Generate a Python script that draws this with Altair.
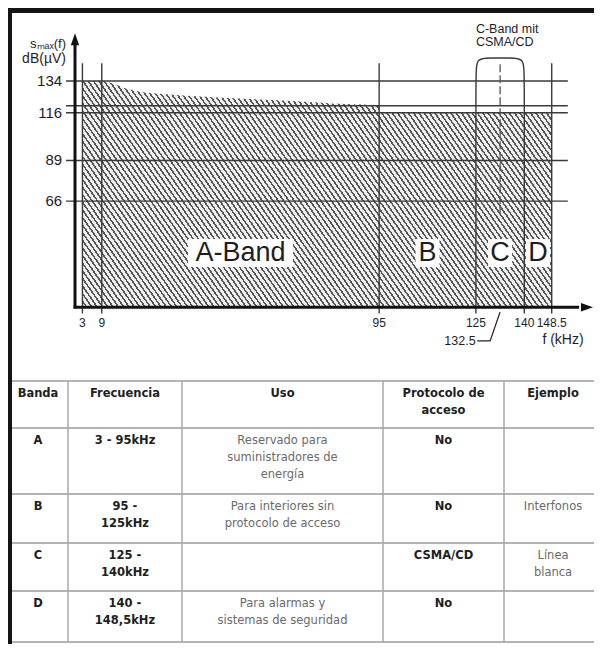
import altair as alt
import pandas as pd

# ---------------- chart values ----------------
curve_f = [3, 9, 12.5, 16.7, 21, 29, 39.5, 50, 60, 70.5, 81, 94.9, 95.1, 148.5]
curve_v = [134, 134, 132.5, 129.6, 127.9, 126.5, 125.2, 124.2, 123.3, 122.4, 121.3, 120.1, 116, 116]
level_values = [134, 120, 116, 89, 66]
y_tick_values = [134, 116, 89, 66]
x_tick_values = [3, 9, 95, 125, 140, 148.5]
x_tick_labels = ["3", "9", "95", "125", "140", "148.5"]
grid_f = [3, 9, 95, 148.5]
band_names = ["A-Band", "B", "C", "D"]
band_mid = [52, 110, 132.5, 144.25]
c_band_f = [125, 140]
c_band_split = 132.5

# ---------------- table values ----------------
headers = ["Banda", "Frecuencia", "Uso", "Protocolo de\nacceso", "Ejemplo"]
bands = ["A", "B", "C", "D"]
frecuencia = ["3 - 95kHz", "95 -\n125kHz", "125 -\n140kHz", "140 -\n148,5kHz"]
uso = ["Reservado para\nsuministradores de\nenergía", "Para interiores sin\nprotocolo de acceso", "",
       "Para alarmas y\nsistemas de seguridad"]
protocolo = ["No", "No", "CSMA/CD", "No"]
ejemplo = ["", "Interfonos", "Línea\nblanca", ""]

# ---------------- layout ----------------
FONT = "Liberation Sans"
TFONT = "DejaVu Sans"
XS = alt.Scale(domain=[0.7, 161.3], range=[67, 585], nice=False, zero=False)
YS = alt.Scale(domain=[6, 161], range=[299.2, 25.2], nice=False, zero=False)
TX = alt.Scale(domain=[0, 602], range=[-8, 594], nice=False, zero=False)
TY = alt.Scale(domain=[0, 655], range=[-8, 647], nice=False, zero=False)
col_edges = [8, 68, 182, 383, 504, 602]
row_edges = [381, 428, 494, 543, 591, 642]


def fx(field=None, datum=None):
    if field is not None:
        return alt.X(field, scale=XS, axis=None)
    return alt.X(datum=datum, scale=XS, axis=None)


def fy(field=None, datum=None):
    if field is not None:
        return alt.Y(field, scale=YS, axis=None)
    return alt.Y(datum=datum, scale=YS, axis=None)


def tx(field=None, datum=None):
    if field is not None:
        return alt.X(field, scale=TX, axis=None)
    return alt.X(datum=datum, scale=TX, axis=None)


def ty(field=None, datum=None):
    if field is not None:
        return alt.Y(field, scale=TY, axis=None)
    return alt.Y(datum=datum, scale=TY, axis=None)


# hatch pattern as a striped linear gradient
N = 118
stops = []
for i in range(N):
    a = i / N
    b = (i + 0.36) / N
    c = (i + 1) / N
    stops += [alt.GradientStop(offset=a, color="#555555"), alt.GradientStop(offset=b, color="#555555"),
              alt.GradientStop(offset=b, color="#efefef"), alt.GradientStop(offset=c, color="#efefef")]
hatch = alt.Gradient(gradient="linear", stops=stops, x1=1, y1=0, x2=-0.2008, y2=0.4047)

layers = []

curve_df = pd.DataFrame({"f": curve_f, "v": curve_v})
layers.append(alt.Chart(curve_df).mark_area(interpolate="monotone", color=hatch, strokeWidth=0).encode(
    x=fx("f:Q"), y=fy("v:Q"), y2=alt.Y2(datum=6)))

# horizontal level lines
layers.append(alt.Chart(pd.DataFrame({"v": level_values})).mark_rule(color="#3a3a3a", strokeWidth=1.4).encode(
    x=fx(datum=-2.1), x2=alt.X2(datum=153.5), y=fy("v:Q")))

# vertical lines
layers.append(alt.Chart(pd.DataFrame({"f": grid_f})).mark_rule(color="#3a3a3a", strokeWidth=1.4).encode(
    x=fx("f:Q"), y=fy(datum=2.5), y2=alt.Y2(datum=144)))

# C band bracket
lo, hi = c_band_f
top = 147
br = pd.DataFrame({
    "f": [lo, lo, lo, lo + 5, (lo + hi) / 2, hi - 5, hi, hi, hi],
    "v": [2.5, 138, top, top, top, top, top, 138, 2.5],
    "i": list(range(9))})
layers.append(alt.Chart(br).mark_line(interpolate="basis", color="#3a3a3a", strokeWidth=1.4).encode(
    x=fx("f:Q"), y=fy("v:Q"), order="i:Q"))

# 132.5 dashed split line
layers.append(alt.Chart(pd.DataFrame({"f": [c_band_split]})).mark_rule(
    color="#555555", strokeWidth=1.3, strokeDash=[8, 3]).encode(
    x=fx("f:Q"), y=fy(datum=58), y2=alt.Y2(datum=144)))

# white boxes behind band labels
bands_df = pd.DataFrame({"f": band_mid, "name": band_names})
layers.append(alt.Chart(bands_df.iloc[:1]).mark_rect(color="white", width=105, height=28).encode(
    x=fx("f:Q"), y=fy(datum=36.6)))
layers.append(alt.Chart(bands_df.iloc[1:]).mark_rect(color="white", width=24, height=28).encode(
    x=fx("f:Q"), y=fy(datum=36.6)))
layers.append(alt.Chart(bands_df).mark_text(font=FONT, fontSize=27, color="#1e1e1e", baseline="middle").encode(
    x=fx("f:Q"), y=fy(datum=36.6), text="name:N"))

# axes with arrows
layers.append(alt.Chart(pd.DataFrame({"a": [0]})).mark_rule(color="#111111", strokeWidth=3).encode(
    x=fx(datum=0.7), y=fy(datum=5.2), y2=alt.Y2(datum=156)))
layers.append(alt.Chart(pd.DataFrame({"a": [0]})).mark_rule(color="#111111", strokeWidth=3).encode(
    x=fx(datum=0.3), x2=alt.X2(datum=157), y=fy(datum=6)))
layers.append(alt.Chart(pd.DataFrame({"a": [0]})).mark_point(
    shape="M0,0L-0.35,1L0.35,1Z", filled=True, color="#111111", size=576, opacity=1).encode(
    x=fx(datum=0.7), y=fy(datum=161)))
layers.append(alt.Chart(pd.DataFrame({"a": [0]})).mark_point(
    shape="M0,0L-1,-0.35L-1,0.35Z", filled=True, color="#111111", size=576, opacity=1).encode(
    x=fx(datum=161.3), y=fy(datum=6)))

# tick labels
layers.append(alt.Chart(pd.DataFrame({"v": y_tick_values, "t": [str(v) for v in y_tick_values]})).mark_text(
    font=FONT, fontSize=15, color="#1e1e1e", align="right", baseline="middle").encode(
    x=fx(datum=-3.3), y=fy("v:Q"), text="t:N"))
layers.append(alt.Chart(pd.DataFrame({"f": x_tick_values, "t": x_tick_labels})).mark_text(
    font=FONT, fontSize=12, color="#1e1e1e", align="center", baseline="middle").encode(
    x=fx("f:Q"), y=fy(datum=-3), text="t:N"))

# 132.5 label with leader
ld = pd.DataFrame({"f": [c_band_split, 129.4, 125.4], "v": [3.3, -13.1, -13.1], "i": [0, 1, 2]})
layers.append(alt.Chart(ld).mark_line(color="#222222", strokeWidth=1.2).encode(
    x=fx("f:Q"), y=fy("v:Q"), order="i:Q"))
layers.append(alt.Chart(pd.DataFrame({"t": ["132.5"]})).mark_text(
    font=FONT, fontSize=12.5, color="#1e1e1e", align="right", baseline="middle").encode(
    x=fx(datum=124.9), y=fy(datum=-13.1), text="t:N"))

# axis titles
layers.append(alt.Chart(pd.DataFrame({"t": ["f (kHz)"]})).mark_text(
    font=FONT, fontSize=14, color="#1e1e1e", align="center", baseline="middle").encode(
    x=fx(datum=152), y=fy(datum=-12.5), text="t:N"))
layers.append(alt.Chart(pd.DataFrame({"t": ["sₘₐₓ(f)"], "v": [155.0]})).mark_text(
    font=FONT, fontSize=13, color="#1e1e1e", align="right", baseline="middle").encode(
    x=fx(datum=-2.1), y=fy("v:Q"), text="t:N"))
layers.append(alt.Chart(pd.DataFrame({"t": ["dB(µV)"], "v": [146.3]})).mark_text(
    font=FONT, fontSize=14, color="#1e1e1e", align="right", baseline="middle").encode(
    x=fx(datum=-2.1), y=fy("v:Q"), text="t:N"))
layers.append(alt.Chart(pd.DataFrame({"t": ["C-Band mit", "CSMA/CD"], "v": [163.5, 155.8]})).mark_text(
    font="Liberation Sans Narrow, Liberation Sans", fontSize=12.5, color="#1e1e1e", align="left",
    baseline="middle").encode(x=fx(datum=lo), y=fy("v:Q"), text="t:N"))

# ---------------- table ----------------
cols_text = [bands, frecuencia, uso, protocolo, ejemplo]
bold_cols = {0, 1, 3}
centers = [(col_edges[i] + col_edges[i + 1]) / 2 for i in range(5)]
recs = []
for r in range(5):
    for c in range(5):
        txt = headers[c] if r == 0 else cols_text[c][r - 1]
        if not txt:
            continue
        for i, line in enumerate(txt.split("\n")):
            recs.append({"x": centers[c], "y": row_edges[r] + 13 + 17 * i, "text": line,
                         "bold": (r == 0 or c in bold_cols)})
tdf = pd.DataFrame(recs)

layers.append(alt.Chart(pd.DataFrame({"y": row_edges})).mark_rule(color="#b4b4b4", strokeWidth=2).encode(
    x=tx(datum=8), x2=alt.X2(datum=602), y=ty("y:Q")))
layers.append(alt.Chart(pd.DataFrame({"x": col_edges[1:-1]})).mark_rule(color="#a8a8a8", strokeWidth=1.5).encode(
    x=tx("x:Q"), y=ty(datum=row_edges[0]), y2=alt.Y2(datum=row_edges[-1])))
layers.append(alt.Chart(tdf[tdf["bold"]]).mark_text(
    font=TFONT, fontSize=11.5, fontWeight="bold", color="#1e1e1e", baseline="middle").encode(
    x=tx("x:Q"), y=ty("y:Q"), text="text:N"))
layers.append(alt.Chart(tdf[~tdf["bold"]]).mark_text(
    font=TFONT, fontSize=11.5, color="#6a6a6a", baseline="middle").encode(
    x=tx("x:Q"), y=ty("y:Q"), text="text:N"))

# black frame bars
layers.append(alt.Chart(pd.DataFrame({"a": [0]})).mark_rect(color="#141414").encode(
    x=tx(datum=0), x2=alt.X2(datum=602), y=ty(datum=8), y2=alt.Y2(datum=13)))
layers.append(alt.Chart(pd.DataFrame({"a": [0]})).mark_rect(color="#141414").encode(
    x=tx(datum=8), x2=alt.X2(datum=12), y=ty(datum=8), y2=alt.Y2(datum=655)))

chart = alt.layer(*layers).resolve_scale(x="independent", y="independent").properties(
    width=586, height=636, padding=0, autosize=alt.AutoSizeParams(type="none"), background="white"
).configure_view(stroke=None)

chart.save("out.html", embed_options={"renderer": "svg", "actions": False})
